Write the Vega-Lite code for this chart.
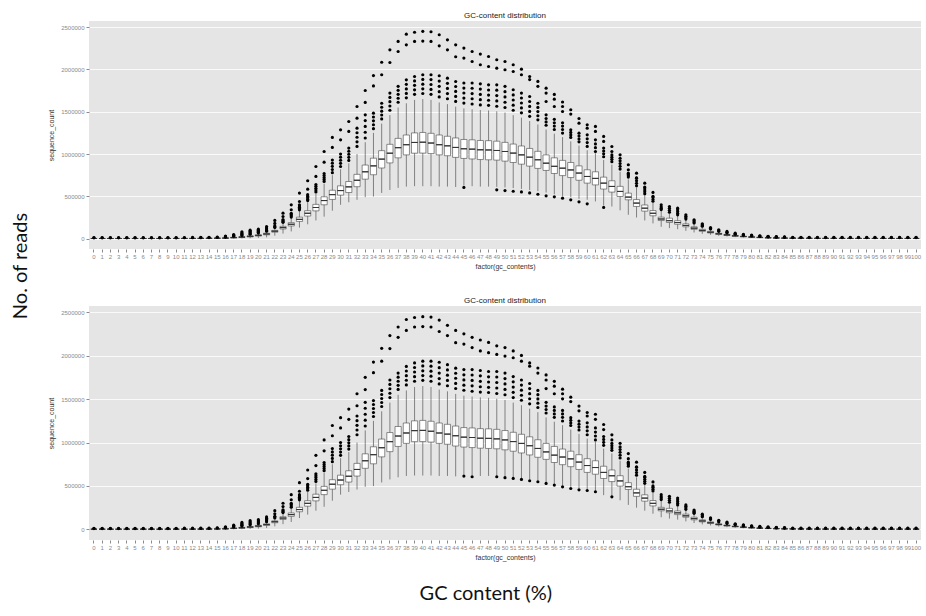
{
"$schema": "https://vega.github.io/schema/vega-lite/v6.json",
"padding": {"left": 10, "top": 12, "right": 2, "bottom": 4},
"background": "white",
"config": {
 "view": {"fill": "#E5E5E5", "stroke": null},
 "axis": {"domain": false, "gridColor": "#FFFFFF", "gridWidth": 0.8, "tickColor": "#8a8a8a", "tickSize": 3, "labelColor": "#8a8a8a", "labelFontSize": 6, "labelFont": "Liberation Sans", "titleFont": "Liberation Sans", "titleFontSize": 7, "titleFontWeight": "normal", "titleColor": "#333333"},
 "title": {"font": "Liberation Sans", "fontSize": 8, "fontWeight": "normal", "color": "#222222", "offset": 1}
},
"datasets": {
"s": [
{"g":0,"lo":0,"q1":1000,"m":1500,"q3":2200,"hi":4000,"o":[9000,13000]},
{"g":1,"lo":0,"q1":1000,"m":1500,"q3":2200,"hi":4000,"o":[9000,13000]},
{"g":2,"lo":0,"q1":1000,"m":1500,"q3":2200,"hi":4000,"o":[9000,13000]},
{"g":3,"lo":0,"q1":1000,"m":1500,"q3":2200,"hi":4000,"o":[9000,13000]},
{"g":4,"lo":0,"q1":1000,"m":1500,"q3":2200,"hi":4000,"o":[9000,13000]},
{"g":5,"lo":0,"q1":1000,"m":1500,"q3":2200,"hi":4000,"o":[9000,13000]},
{"g":6,"lo":0,"q1":1000,"m":1500,"q3":2200,"hi":4000,"o":[9000,13000]},
{"g":7,"lo":0,"q1":1000,"m":1500,"q3":2200,"hi":4000,"o":[9000,13000]},
{"g":8,"lo":0,"q1":1000,"m":1500,"q3":2200,"hi":4000,"o":[9000,13000]},
{"g":9,"lo":0,"q1":1100,"m":1600,"q3":2400,"hi":4500,"o":[9000,13000]},
{"g":10,"lo":0,"q1":1200,"m":1800,"q3":2600,"hi":5000,"o":[9500,13000]},
{"g":11,"lo":0,"q1":1300,"m":2000,"q3":2900,"hi":5500,"o":[10000,13500]},
{"g":12,"lo":0,"q1":1500,"m":2300,"q3":3300,"hi":6200,"o":[10000,14000]},
{"g":13,"lo":0,"q1":1800,"m":2700,"q3":3800,"hi":7000,"o":[11000,15000]},
{"g":14,"lo":0,"q1":2200,"m":3300,"q3":4600,"hi":8500,"o":[12000,16000]},
{"g":15,"lo":200,"q1":3000,"m":4500,"q3":6200,"hi":11000,"o":[15000,19000]},
{"g":16,"lo":500,"q1":4400,"m":6500,"q3":9000,"hi":15000,"o":[18000,24000,30000]},
{"g":17,"lo":1000,"q1":8500,"m":12000,"q3":15500,"hi":24000,"o":[28000,34000,41000,48000]},
{"g":18,"lo":2000,"q1":13000,"m":18000,"q3":23000,"hi":33000,"o":[38000,47000,56000,68000,80000]},
{"g":19,"lo":4000,"q1":20000,"m":27000,"q3":33000,"hi":46000,"o":[52000,62000,73000,86000,100000]},
{"g":20,"lo":8000,"q1":30000,"m":38000,"q3":46000,"hi":60000,"o":[66000,76000,87000,99000,112000]},
{"g":21,"lo":15000,"q1":45000,"m":55000,"q3":64000,"hi":80000,"o":[88000,100000,113000,127000,143000]},
{"g":22,"lo":35000,"q1":76000,"m":88000,"q3":98000,"hi":125000,"o":[132000,141000,150000,180000,215000]},
{"g":23,"lo":60000,"q1":114000,"m":130000,"q3":145000,"hi":185000,"o":[193000,203000,214000,225000,262000,301000]},
{"g":24,"lo":85000,"q1":150000,"m":170000,"q3":189000,"hi":245000,"o":[255000,270000,285000,300000,341000,400000]},
{"g":25,"lo":130000,"q1":203000,"m":228000,"q3":254000,"hi":325000,"o":[340000,355000,370000,385000,400000,439000,538000]},
{"g":26,"lo":170000,"q1":267000,"m":300000,"q3":330000,"hi":430000,"o":[450000,467000,485000,502000,520000,585000,684000]},
{"g":27,"lo":215000,"q1":328000,"m":368000,"q3":405000,"hi":530000,"o":[552000,574000,596000,618000,640000,735000,853000]},
{"g":28,"lo":260000,"q1":400000,"m":450000,"q3":495000,"hi":650000,"o":[676000,700000,723000,746000,770000,904000,1030000]},
{"g":29,"lo":330000,"q1":463000,"m":520000,"q3":572000,"hi":750000,"o":[780000,817000,855000,892000,930000,1078000,1196000]},
{"g":30,"lo":400000,"q1":514000,"m":568000,"q3":624000,"hi":820000,"o":[853000,890000,927000,963000,1000000,1168000,1286000]},
{"g":31,"lo":430000,"q1":545000,"m":612000,"q3":675000,"hi":890000,"o":[925000,961000,997000,1033000,1070000,1267000,1385000]},
{"g":32,"lo":459000,"q1":614000,"m":690000,"q3":760000,"hi":1000000,"o":[1090000,1144000,1198000,1252000,1306000,1424000,1562000]},
{"g":33,"lo":490000,"q1":703000,"m":790000,"q3":870000,"hi":1140000,"o":[1190000,1258000,1326000,1395000,1463000,1610000,1751000]},
{"g":34,"lo":498000,"q1":755000,"m":860000,"q3":951000,"hi":1250000,"o":[1300000,1346000,1392000,1438000,1483000,1805000,1927000]},
{"g":35,"lo":540000,"q1":835000,"m":940000,"q3":1040000,"hi":1360000,"o":[1415000,1461000,1507000,1553000,1600000,1937000,2085000]},
{"g":36,"lo":575000,"q1":895000,"m":1010000,"q3":1115000,"hi":1460000,"o":[1518000,1568000,1619000,1669000,1720000,2082000,2232000]},
{"g":37,"lo":600000,"q1":955000,"m":1075000,"q3":1185000,"hi":1550000,"o":[1612000,1659000,1706000,1753000,1800000,2212000,2331000]},
{"g":38,"lo":615000,"q1":990000,"m":1110000,"q3":1225000,"hi":1600000,"o":[1664000,1717000,1770000,1824000,1877000,2291000,2417000]},
{"g":39,"lo":620000,"q1":1010000,"m":1137000,"q3":1250000,"hi":1640000,"o":[1706000,1759000,1812000,1864000,1917000,2331000,2440000]},
{"g":40,"lo":620000,"q1":1011000,"m":1140000,"q3":1255000,"hi":1650000,"o":[1716000,1771000,1826000,1882000,1937000,2335000,2450000]},
{"g":41,"lo":620000,"q1":1005000,"m":1130000,"q3":1245000,"hi":1640000,"o":[1706000,1764000,1822000,1880000,1937000,2331000,2445000]},
{"g":42,"lo":615000,"q1":990000,"m":1110000,"q3":1225000,"hi":1610000,"o":[1675000,1737000,1800000,1862000,1925000,2279000,2410000]},
{"g":43,"lo":615000,"q1":980000,"m":1097000,"q3":1210000,"hi":1590000,"o":[1654000,1715000,1776000,1836000,1897000,2232000,2350000]},
{"g":44,"lo":610000,"q1":960000,"m":1078000,"q3":1190000,"hi":1560000,"o":[1622000,1681000,1740000,1798000,1857000,2150000,2291000]},
{"g":45,"lo":630000,"q1":948000,"m":1062000,"q3":1172000,"hi":1540000,"o":[1602000,1661000,1721000,1780000,1840000,2134000,2252000]},
{"g":46,"lo":620000,"q1":942000,"m":1058000,"q3":1168000,"hi":1530000,"o":[1591000,1653000,1715000,1778000,1840000,2094000,2212000]},
{"g":47,"lo":615000,"q1":935000,"m":1050000,"q3":1160000,"hi":1520000,"o":[1581000,1643000,1705000,1768000,1830000,2055000,2181000]},
{"g":48,"lo":615000,"q1":932000,"m":1048000,"q3":1158000,"hi":1515000,"o":[1576000,1636000,1697000,1757000,1818000,2035000,2153000]},
{"g":49,"lo":612000,"q1":928000,"m":1042000,"q3":1152000,"hi":1505000,"o":[1565000,1628000,1691000,1755000,1818000,2015000,2114000]},
{"g":50,"lo":605000,"q1":916000,"m":1030000,"q3":1138000,"hi":1490000,"o":[1550000,1612000,1675000,1737000,1800000,1996000,2094000]},
{"g":51,"lo":598000,"q1":900000,"m":1011000,"q3":1118000,"hi":1460000,"o":[1518000,1578000,1639000,1699000,1760000,1976000,2055000]},
{"g":52,"lo":588000,"q1":880000,"m":990000,"q3":1095000,"hi":1430000,"o":[1487000,1545000,1603000,1662000,1720000,1937000,2003000]},
{"g":53,"lo":575000,"q1":857000,"m":963000,"q3":1066000,"hi":1390000,"o":[1446000,1504000,1563000,1621000,1680000,1880000,1917000]},
{"g":54,"lo":562000,"q1":830000,"m":932000,"q3":1032000,"hi":1350000,"o":[1404000,1453000,1502000,1551000,1600000,1800000,1858000]},
{"g":55,"lo":545000,"q1":806000,"m":892000,"q3":990000,"hi":1290000,"o":[1340000,1380000,1420000,1463000,1621000,1720000,1779000]},
{"g":56,"lo":525000,"q1":770000,"m":855000,"q3":955000,"hi":1240000,"o":[1290000,1330000,1370000,1410000,1562000,1649000,1705000]},
{"g":57,"lo":505000,"q1":745000,"m":833000,"q3":925000,"hi":1200000,"o":[1248000,1290000,1330000,1370000,1503000,1562000,1615000]},
{"g":58,"lo":490000,"q1":722000,"m":812000,"q3":900000,"hi":1150000,"o":[1196000,1226000,1256000,1286000,1472000,1523000]},
{"g":59,"lo":470000,"q1":690000,"m":775000,"q3":860000,"hi":1100000,"o":[1144000,1178000,1212000,1247000,1365000,1420000]},
{"g":60,"lo":460000,"q1":656000,"m":735000,"q3":814000,"hi":1045000,"o":[1090000,1135000,1180000,1227000,1306000,1346000]},
{"g":61,"lo":440000,"q1":635000,"m":712000,"q3":790000,"hi":1010000,"o":[1030000,1075000,1120000,1168000,1267000,1326000]},
{"g":62,"lo":394000,"q1":586000,"m":656000,"q3":727000,"hi":930000,"o":[968000,1002000,1036000,1070000,1149000,1208000]},
{"g":63,"lo":380000,"q1":550000,"m":617000,"q3":684000,"hi":875000,"o":[910000,937000,963000,990000,1030000,1089000]},
{"g":64,"lo":335000,"q1":498000,"m":558000,"q3":618000,"hi":790000,"o":[822000,855000,888000,920000,950000,991000]},
{"g":65,"lo":282000,"q1":459000,"m":491000,"q3":538000,"hi":700000,"o":[728000,743000,758000,774000,814000,873000]},
{"g":66,"lo":250000,"q1":380000,"m":420000,"q3":462000,"hi":600000,"o":[624000,654000,685000,715000,720000,774000]},
{"g":67,"lo":215000,"q1":325000,"m":360000,"q3":398000,"hi":510000,"o":[530000,553000,576000,600000,610000,656000]},
{"g":68,"lo":180000,"q1":270000,"m":300000,"q3":332000,"hi":425000,"o":[442000,463000,485000,500000,546000]},
{"g":69,"lo":140000,"q1":214000,"m":232000,"q3":254000,"hi":330000,"o":[343000,360000,377000,400000]},
{"g":70,"lo":124000,"q1":191000,"m":212000,"q3":242000,"hi":300000,"o":[312000,335000,358000,380000]},
{"g":71,"lo":112000,"q1":170000,"m":190000,"q3":212000,"hi":270000,"o":[281000,300000,320000,340000,360000]},
{"g":72,"lo":92000,"q1":140000,"m":156000,"q3":175000,"hi":222000,"o":[231000,248000,265000,282000]},
{"g":73,"lo":73000,"q1":110000,"m":124000,"q3":140000,"hi":178000,"o":[185000,197000,210000,223000]},
{"g":74,"lo":57000,"q1":86000,"m":97000,"q3":110000,"hi":140000,"o":[146000,155000,165000,175000]},
{"g":75,"lo":45000,"q1":67000,"m":76000,"q3":86000,"hi":110000,"o":[115000,123000,132000]},
{"g":76,"lo":33000,"q1":50000,"m":57000,"q3":64000,"hi":82000,"o":[86000,95000,104000]},
{"g":77,"lo":25000,"q1":38000,"m":44000,"q3":50000,"hi":64000,"o":[68000,76000,85000]},
{"g":78,"lo":18000,"q1":28000,"m":33000,"q3":38000,"hi":48000,"o":[52000,58000,65000]},
{"g":79,"lo":13000,"q1":21000,"m":25000,"q3":29000,"hi":37000,"o":[40000,46000,52000]},
{"g":80,"lo":9000,"q1":16000,"m":19000,"q3":22000,"hi":29000,"o":[32000,37000,42000]},
{"g":81,"lo":6000,"q1":11500,"m":14000,"q3":16500,"hi":22000,"o":[26000,30000,34000]},
{"g":82,"lo":4000,"q1":8500,"m":10500,"q3":12500,"hi":17000,"o":[21000,24000,28000]},
{"g":83,"lo":3000,"q1":6500,"m":8000,"q3":9500,"hi":13000,"o":[17000,21000,24000]},
{"g":84,"lo":2000,"q1":4800,"m":6000,"q3":7200,"hi":10000,"o":[15000,18000,21000]},
{"g":85,"lo":1500,"q1":4000,"m":5000,"q3":6000,"hi":8500,"o":[12000,15000]},
{"g":86,"lo":1000,"q1":3300,"m":4200,"q3":5000,"hi":7200,"o":[12000,15000]},
{"g":87,"lo":800,"q1":2800,"m":3600,"q3":4400,"hi":6200,"o":[12000,15000]},
{"g":88,"lo":600,"q1":2400,"m":3100,"q3":3800,"hi":5500,"o":[12000,15000]},
{"g":89,"lo":400,"q1":2100,"m":2800,"q3":3400,"hi":5000,"o":[12000,15000]},
{"g":90,"lo":300,"q1":2000,"m":2600,"q3":3200,"hi":4600,"o":[12000,15000]},
{"g":91,"lo":200,"q1":1800,"m":2400,"q3":3000,"hi":4300,"o":[12000,15000]},
{"g":92,"lo":200,"q1":1800,"m":2300,"q3":2900,"hi":4200,"o":[12000,15000]},
{"g":93,"lo":200,"q1":1700,"m":2200,"q3":2800,"hi":4100,"o":[12000,15000]},
{"g":94,"lo":200,"q1":1600,"m":2100,"q3":2700,"hi":4000,"o":[12000,15000]},
{"g":95,"lo":200,"q1":1500,"m":2000,"q3":2600,"hi":4000,"o":[12000,15000]},
{"g":96,"lo":200,"q1":1500,"m":2000,"q3":2600,"hi":4000,"o":[12000,15000]},
{"g":97,"lo":200,"q1":1500,"m":2000,"q3":2600,"hi":4000,"o":[12000,15000]},
{"g":98,"lo":200,"q1":1500,"m":2000,"q3":2600,"hi":4000,"o":[12000,15000]},
{"g":99,"lo":200,"q1":1500,"m":2000,"q3":2600,"hi":4000,"o":[12000,15000]},
{"g":100,"lo":200,"q1":1500,"m":2000,"q3":2600,"hi":4000,"o":[12000,15000]}
],
"lowA": [
{"g":45,"v":605000},{"g":49,"v":577000},{"g":50,"v":568000},{"g":51,"v":560000},{"g":52,"v":552000},{"g":53,"v":540000},{"g":54,"v":525000},{"g":55,"v":506000},{"g":56,"v":494000},{"g":57,"v":478000},{"g":58,"v":459000},{"g":59,"v":435000},{"g":60,"v":411000},{"g":62,"v":369000}
],
"lowB": [
{"g":45,"v":614000},{"g":46,"v":606000},{"g":49,"v":606000},{"g":50,"v":595000},{"g":51,"v":587000},{"g":52,"v":575000},{"g":53,"v":560000},{"g":54,"v":548000},{"g":55,"v":529000},{"g":56,"v":510000},{"g":57,"v":490000},{"g":58,"v":471000},{"g":59,"v":455000},{"g":60,"v":448000},{"g":61,"v":433000},{"g":63,"v":375000}
]
},
"title": {"text": "GC content (%)", "orient": "bottom", "anchor": "middle", "font": "Lato", "fontSize": 20, "color": "#111111", "offset": 24, "dx": 20},
"vconcat": [
{
 "title": {"text": "No. of reads", "orient": "left", "anchor": "middle", "font": "Lato", "fontSize": 20, "color": "#111111", "offset": 17, "dx": 20},
 "spacing": 28,
 "vconcat": [
  {
   "width": 832, "height": 228,
   "title": {"text": "GC-content distribution"},
   "encoding": {"x": {"field": "g", "type": "ordinal", "title": "factor(gc_contents)", "scale": {"paddingInner": 0, "paddingOuter": 0.1}, "axis": {"labelAngle": 0, "labelOverlap": false, "labelPadding": 1, "titlePadding": 3}}},
   "layer": [
    {"data": {"name": "s"}, "mark": {"type": "rule", "color": "#555555", "strokeWidth": 0.7}, "encoding": {"y": {"field": "lo", "type": "quantitative", "title": "sequence_count", "scale": {"domain": [-122500, 2572500], "nice": false, "zero": false}, "axis": {"values": [0, 250000, 500000, 750000, 1000000, 1250000, 1500000, 1750000, 2000000, 2250000, 2500000], "format": "d", "labelExpr": "datum.value % 500000 === 0 ? datum.label : ''", "gridColor": {"condition": {"test": "datum.value % 500000 === 0", "value": "#FFFFFF"}, "value": "#F2F2F2"}, "tickOpacity": {"condition": {"test": "datum.value % 500000 === 0", "value": 1}, "value": 0}, "labelPadding": 2, "titlePadding": 6}}, "y2": {"field": "hi"}}},
    {"data": {"name": "s"}, "mark": {"type": "bar", "fill": "white", "stroke": "#444444", "strokeWidth": 0.6, "width": {"band": 0.75}}, "encoding": {"y": {"field": "q1", "type": "quantitative", "title": "sequence_count"}, "y2": {"field": "q3"}}},
    {"data": {"name": "s"}, "mark": {"type": "bar", "fill": "white", "stroke": "#333333", "strokeWidth": 1, "width": {"band": 0.75}}, "encoding": {"y": {"field": "m", "type": "quantitative", "title": "sequence_count"}, "y2": {"field": "m"}}},
    {"data": {"name": "s"}, "transform": [{"flatten": ["o"]}], "mark": {"type": "circle", "color": "#000000", "opacity": 1, "size": 10}, "encoding": {"y": {"field": "o", "type": "quantitative", "title": "sequence_count"}}},
    {"data": {"name": "lowA"}, "mark": {"type": "circle", "color": "#000000", "opacity": 1, "size": 10}, "encoding": {"y": {"field": "v", "type": "quantitative", "title": "sequence_count"}}}
   ]
  },
  {
   "width": 832, "height": 234,
   "title": {"text": "GC-content distribution"},
   "encoding": {"x": {"field": "g", "type": "ordinal", "title": "factor(gc_contents)", "scale": {"paddingInner": 0, "paddingOuter": 0.1}, "axis": {"labelAngle": 0, "labelOverlap": false, "labelPadding": 1, "titlePadding": 3}}},
   "layer": [
    {"data": {"name": "s"}, "mark": {"type": "rule", "color": "#555555", "strokeWidth": 0.7}, "encoding": {"y": {"field": "lo", "type": "quantitative", "title": "sequence_count", "scale": {"domain": [-122500, 2572500], "nice": false, "zero": false}, "axis": {"values": [0, 250000, 500000, 750000, 1000000, 1250000, 1500000, 1750000, 2000000, 2250000, 2500000], "format": "d", "labelExpr": "datum.value % 500000 === 0 ? datum.label : ''", "gridColor": {"condition": {"test": "datum.value % 500000 === 0", "value": "#FFFFFF"}, "value": "#F2F2F2"}, "tickOpacity": {"condition": {"test": "datum.value % 500000 === 0", "value": 1}, "value": 0}, "labelPadding": 2, "titlePadding": 6}}, "y2": {"field": "hi"}}},
    {"data": {"name": "s"}, "mark": {"type": "bar", "fill": "white", "stroke": "#444444", "strokeWidth": 0.6, "width": {"band": 0.75}}, "encoding": {"y": {"field": "q1", "type": "quantitative", "title": "sequence_count"}, "y2": {"field": "q3"}}},
    {"data": {"name": "s"}, "mark": {"type": "bar", "fill": "white", "stroke": "#333333", "strokeWidth": 1, "width": {"band": 0.75}}, "encoding": {"y": {"field": "m", "type": "quantitative", "title": "sequence_count"}, "y2": {"field": "m"}}},
    {"data": {"name": "s"}, "transform": [{"flatten": ["o"]}], "mark": {"type": "circle", "color": "#000000", "opacity": 1, "size": 10}, "encoding": {"y": {"field": "o", "type": "quantitative", "title": "sequence_count"}}},
    {"data": {"name": "lowB"}, "mark": {"type": "circle", "color": "#000000", "opacity": 1, "size": 10}, "encoding": {"y": {"field": "v", "type": "quantitative", "title": "sequence_count"}}}
   ]
  }
 ]
}
]
}
